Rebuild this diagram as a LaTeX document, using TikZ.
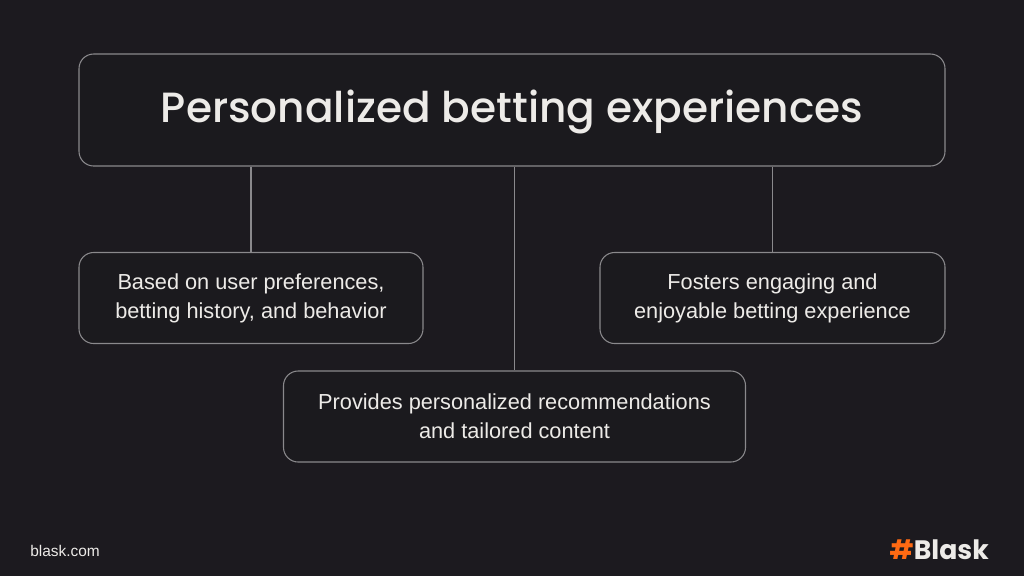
\documentclass[tikz,border=0pt]{standalone}
\usepackage{fontspec}
\setmainfont{Liberation Sans}
\newfontfamily\titlefont[UprightFont=* Medium]{Poppins}
\newfontfamily\logofont{Poppins}
\definecolor{bg}{HTML}{1C1A1F}
\definecolor{boxfill}{HTML}{1B1A1E}
\definecolor{edge}{HTML}{8A898C}
\definecolor{txt}{HTML}{EDEBE8}
\definecolor{blaskorange}{HTML}{FF6A13}
\begin{document}
\begin{tikzpicture}[x=0.75pt,y=-0.75pt,
  card/.style={draw=edge,line width=0.8pt,fill=boxfill,rounded corners=11pt,
    text=txt,align=center,inner sep=0pt},
  body/.style={font=\fontsize{16.3}{21.75}\selectfont},
  link/.style={draw=edge,line width=0.8pt}]
\fill[bg] (0,0) rectangle (1024,576);
\useasboundingbox (0,0) rectangle (1024,576);
\node[card,minimum width=649.5pt,minimum height=84pt] (top) at (512,110) {};
\node[text=txt,inner sep=0pt,anchor=base] (title) at (512,122)
  {\titlefont\fontsize{31.7}{38}\selectfont Personalized betting experiences};
\node[card,body,minimum width=258pt,minimum height=68.25pt] (left) at (251,298)
  {Based on user preferences,\\betting history, and behavior};
\node[card,body,minimum width=258.75pt,minimum height=68.25pt] (right) at (772.5,298)
  {Fosters engaging and\\enjoyable betting experience};
\node[card,body,minimum width=346.5pt,minimum height=68.25pt] (bottom) at (514.5,416.5)
  {Provides personalized recommendations\\and tailored content};
\draw[link] (top.south -| left.north) -- (left.north);
\draw[link] (top.south -| right.north) -- (right.north);
\draw[link] (top.south -| bottom.north) -- (bottom.north);
\node[text=txt,font=\fontsize{11.6}{13}\selectfont,anchor=west,inner sep=0pt] (site) at (30,551) {blask.com};
\node[anchor=east,inner sep=0pt,font=\logofont\bfseries\fontsize{20}{22}\selectfont] (logo) at (989,550)
  {\textcolor{blaskorange}{\#}\textcolor{txt}{Blask}};
\end{tikzpicture}
\end{document}
